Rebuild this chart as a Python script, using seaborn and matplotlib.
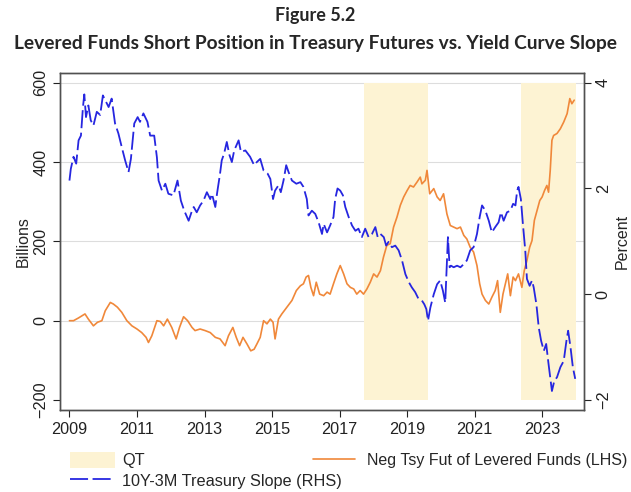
import matplotlib
matplotlib.use('Agg')
import matplotlib.pyplot as plt
from matplotlib.patches import Patch
import seaborn as sns

# Neg Tsy futures position of levered funds, billions (LHS)
fut_years = [2009.00, 2009.12, 2009.27, 2009.46, 2009.56, 2009.71, 2009.83, 2009.96,
             2010.06, 2010.21, 2010.30, 2010.42, 2010.55, 2010.70, 2010.85, 2011.00,
             2011.14, 2011.27, 2011.34, 2011.44, 2011.59, 2011.69, 2011.79, 2011.90,
             2012.03, 2012.16, 2012.26, 2012.38, 2012.50, 2012.63, 2012.72, 2012.87,
             2013.02, 2013.17, 2013.32, 2013.46, 2013.61, 2013.71, 2013.84, 2013.94,
             2014.04, 2014.14, 2014.26, 2014.37, 2014.47, 2014.55, 2014.65, 2014.75,
             2014.85, 2014.95, 2015.03, 2015.09, 2015.19, 2015.29, 2015.44, 2015.59,
             2015.72, 2015.84, 2015.93, 2016.01, 2016.08, 2016.15, 2016.23, 2016.31,
             2016.41, 2016.53, 2016.63, 2016.72, 2016.82, 2016.92, 2017.02, 2017.12,
             2017.22, 2017.32, 2017.42, 2017.51, 2017.61, 2017.71, 2017.81, 2017.91,
             2018.01, 2018.11, 2018.21, 2018.30, 2018.40, 2018.50, 2018.60, 2018.70,
             2018.80, 2018.90, 2019.00, 2019.09, 2019.19, 2019.29, 2019.39, 2019.44,
             2019.54, 2019.59, 2019.67, 2019.79, 2019.89, 2019.98, 2020.08, 2020.18,
             2020.28, 2020.38, 2020.48, 2020.58, 2020.68, 2020.77, 2020.87, 2020.97,
             2021.07, 2021.15, 2021.22, 2021.32, 2021.42, 2021.51, 2021.61, 2021.68,
             2021.76, 2021.84, 2021.91, 2021.98, 2022.06, 2022.14, 2022.21, 2022.30,
             2022.40, 2022.47, 2022.55, 2022.63, 2022.70, 2022.77, 2022.85, 2022.93,
             2023.00, 2023.07, 2023.14, 2023.19, 2023.24, 2023.29, 2023.34, 2023.44,
             2023.54, 2023.64, 2023.74, 2023.82, 2023.88, 2023.95]
fut_billions = [0, 0, 7, 17, 4, -13, -4, 0,
                25, 46, 42, 34, 21, 0, -13, -21,
                -30, -42, -55, -38, 0, -2, -13, 4,
                -17, -46, -17, 10, 0, -17, -25, -21,
                -25, -30, -42, -46, -63, -38, -17, -42,
                -63, -42, -59, -76, -72, -59, -42, 0,
                -8, 4, -4, -46, 4, 17, 34, 51,
                76, 88, 93, 110, 114, 84, 63, 97,
                67, 63, 72, 67, 93, 118, 139, 118,
                93, 84, 80, 67, 76, 67, 80, 97,
                118, 110, 126, 160, 190, 194, 236, 261,
                291, 312, 328, 341, 337, 349, 362, 345,
                354, 379, 320, 333, 312, 303, 320, 269,
                240, 236, 232, 236, 215, 206, 185, 173,
                139, 93, 67, 51, 42, 59, 76, 101,
                21, 67, 93, 118, 63, 110, 101, 118,
                84, 126, 152, 185, 202, 253, 278, 303,
                312, 328, 341, 324, 379, 455, 467, 472,
                484, 501, 522, 560, 547, 556]

# 10Y-3M Treasury slope, percent (RHS)
slope_years = [2009.00, 2009.04, 2009.12, 2009.20, 2009.27, 2009.34, 2009.40, 2009.44,
               2009.49, 2009.56, 2009.63, 2009.71, 2009.81, 2009.91, 2009.99, 2010.06,
               2010.16, 2010.25, 2010.35, 2010.45, 2010.55, 2010.65, 2010.75, 2010.82,
               2010.92, 2011.02, 2011.09, 2011.19, 2011.31, 2011.39, 2011.51, 2011.59,
               2011.64, 2011.74, 2011.84, 2011.93, 2012.08, 2012.20, 2012.30, 2012.40,
               2012.53, 2012.63, 2012.68, 2012.77, 2012.87, 2012.97, 2013.07, 2013.17,
               2013.22, 2013.32, 2013.37, 2013.46, 2013.51, 2013.58, 2013.66, 2013.74,
               2013.81, 2013.88, 2014.01, 2014.08, 2014.21, 2014.35, 2014.47, 2014.55,
               2014.65, 2014.75, 2014.87, 2014.95, 2015.03, 2015.09, 2015.19, 2015.26,
               2015.34, 2015.42, 2015.49, 2015.59, 2015.72, 2015.84, 2015.93, 2016.03,
               2016.08, 2016.18, 2016.28, 2016.38, 2016.48, 2016.53, 2016.63, 2016.72,
               2016.82, 2016.87, 2016.94, 2017.02, 2017.10, 2017.17, 2017.27, 2017.37,
               2017.47, 2017.56, 2017.66, 2017.76, 2017.86, 2017.96, 2018.06, 2018.13,
               2018.21, 2018.31, 2018.38, 2018.45, 2018.55, 2018.65, 2018.75, 2018.85,
               2018.95, 2019.05, 2019.14, 2019.24, 2019.34, 2019.44, 2019.51, 2019.57,
               2019.62, 2019.69, 2019.79, 2019.89, 2019.98, 2020.06, 2020.13, 2020.18,
               2020.21, 2020.26, 2020.30, 2020.38, 2020.48, 2020.58, 2020.68, 2020.77,
               2020.87, 2020.97, 2021.07, 2021.15, 2021.22, 2021.32, 2021.42, 2021.51,
               2021.61, 2021.71, 2021.78, 2021.86, 2021.96, 2022.06, 2022.14, 2022.21,
               2022.26, 2022.30, 2022.37, 2022.43, 2022.50, 2022.55, 2022.63, 2022.70,
               2022.75, 2022.83, 2022.90, 2022.97, 2023.05, 2023.12, 2023.19, 2023.29,
               2023.36, 2023.44, 2023.54, 2023.64, 2023.72, 2023.77, 2023.84, 2023.91,
               2023.98]
slope_pct = [2.15, 2.37, 2.60, 2.47, 2.91, 3.00, 3.54, 3.78,
             3.35, 3.57, 3.29, 3.19, 3.45, 3.39, 3.76, 3.67,
             3.54, 3.70, 3.23, 3.04, 2.78, 2.53, 2.31, 2.56,
             3.23, 3.35, 3.26, 3.42, 3.26, 3.00, 3.00, 2.59,
             2.15, 1.96, 2.09, 1.90, 1.87, 2.15, 1.77, 1.58,
             1.39, 1.58, 1.65, 1.55, 1.68, 1.77, 1.93, 1.80,
             1.90, 1.65, 1.90, 2.28, 2.53, 2.66, 2.88, 2.63,
             2.50, 2.72, 2.91, 2.69, 2.72, 2.60, 2.44, 2.50,
             2.56, 2.34, 2.28, 2.18, 1.80, 1.96, 2.06, 1.93,
             2.15, 2.44, 2.31, 2.15, 2.09, 2.12, 2.03, 1.80,
             1.49, 1.58, 1.52, 1.36, 1.14, 1.33, 1.17, 1.30,
             1.46, 1.80, 2.00, 1.96, 1.87, 1.65, 1.46, 1.30,
             1.20, 1.24, 1.08, 1.24, 1.08, 1.14, 1.27, 1.08,
             1.14, 1.08, 0.92, 0.99, 0.89, 0.92, 0.83, 0.64,
             0.38, 0.23, 0.13, 0.04, -0.09, -0.12, -0.19, -0.28,
             -0.50, -0.25, 0.00, 0.19, 0.26, 0.07, -0.16, 0.64,
             1.08, 0.51, 0.54, 0.51, 0.54, 0.51, 0.57, 0.64,
             0.83, 0.89, 1.14, 1.46, 1.68, 1.58, 1.39, 1.17,
             1.27, 1.36, 1.55, 1.39, 1.55, 1.58, 1.71, 1.68,
             1.96, 2.03, 1.80, 1.33, 0.83, 0.29, 0.16, 0.26,
             0.13, -0.19, -0.63, -0.88, -1.07, -0.94, -1.32, -1.83,
             -1.64, -1.57, -1.38, -1.26, -0.88, -0.69, -1.00, -1.38,
             -1.60]

# quantitative tightening periods
qt_start = [2017.73, 2022.38]
qt_end = [2019.61, 2024.01]

x_ticks = list(range(2009, 2024, 2))
left_ticks = [-200, 0, 200, 400, 600]
right_ticks = [-2, 0, 2, 4]

BLUE = '#2626e0'
ORANGE = '#f0883a'
QT_COLOR = '#fdf3d3'
SPINE = '#505050'

sns.set_style('ticks')
plt.rcParams['font.family'] = ['Liberation Sans', 'DejaVu Sans']

fig = plt.figure(figsize=(6.31, 4.92), dpi=100)
ax = fig.add_axes([60 / 631, 82 / 492, 524 / 631, 337 / 492])
ax2 = ax.twinx()

# grid first, then shading on top of it, then the lines
ax.set_axisbelow(True)
ax.grid(axis='y', color='#dddddd', linewidth=0.8)
for s, e in zip(qt_start, qt_end):
    ax.fill_between([s, e], -200, 600, color=QT_COLOR, linewidth=0, zorder=1)

sns.lineplot(x=fut_years, y=fut_billions, ax=ax, color=ORANGE, linewidth=1.2,
             estimator=None, sort=False, zorder=2)
sns.lineplot(x=slope_years, y=slope_pct, ax=ax2, color=BLUE, linewidth=1.3,
             estimator=None, sort=False, dashes=False)
blue_line = ax2.get_lines()[0]
blue_line.set_dashes((10, 2.5))

ax.set_xlim(2008.72, 2024.24)
ax.set_ylim(-225.2, 624.5)
ax2.set_ylim(-2.189, 4.184)
ax.set_xticks(x_ticks)
ax.set_yticks(left_ticks)
ax2.set_yticks(right_ticks)
ax.get_ygridlines()[0].set_visible(False)

ax.set_ylabel('Billions', fontsize=11.5, labelpad=2)
ax2.set_ylabel('Percent', fontsize=11.5, labelpad=3)
ax2.yaxis.set_label_position('right')

for a in (ax, ax2):
    for sp in a.spines.values():
        sp.set_visible(True)
        sp.set_color(SPINE)
        sp.set_linewidth(1.0)
    a.tick_params(colors='#222222', labelsize=11.7, width=0.8, length=5)
    a.tick_params(axis='y', labelrotation=90)
for lbl in ax.get_yticklabels() + ax2.get_yticklabels():
    lbl.set_va('center')

# title
fig.text(0.5, 1 - 15 / 492, 'Figure 5.2', ha='center', va='center',
         family='Lato', fontweight='bold', fontsize=13)
fig.text(0.5, 1 - 43 / 492,
         'Levered Funds Short Position in Treasury Futures vs. Yield Curve Slope',
         ha='center', va='center', family='Lato', fontweight='bold', fontsize=13.8)

# legends below the plot
qt_patch = Patch(facecolor=QT_COLOR, edgecolor='none')
fig.legend([qt_patch, blue_line], ['QT', '10Y-3M Treasury Slope (RHS)'],
           loc='upper left', bbox_to_anchor=(70 / 631, 1 - 452 / 492),
           frameon=False, fontsize=11.7, borderpad=0, borderaxespad=0,
           handlelength=2.75, handleheight=1.1, labelspacing=0.25, handletextpad=0.45)
orange_line = ax.get_lines()[0]
fig.legend([orange_line], ['Neg Tsy Fut of Levered Funds (LHS)'],
           loc='upper left', bbox_to_anchor=(313 / 631, 1 - 452 / 492),
           frameon=False, fontsize=11.5, borderpad=0, borderaxespad=0,
           handlelength=2.6, handleheight=1.1, handletextpad=0.75)

fig.savefig('out.png', dpi=100)
